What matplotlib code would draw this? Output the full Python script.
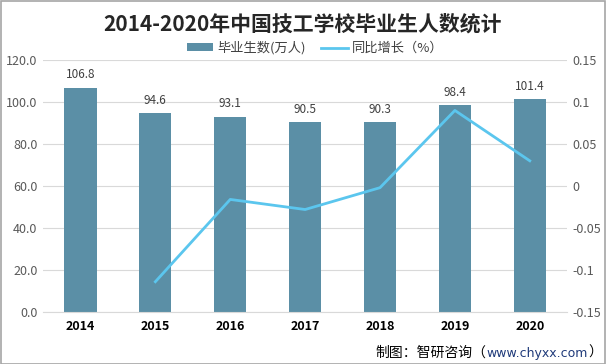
import matplotlib
matplotlib.use("Agg")
import matplotlib.pyplot as plt
import numpy as np

plt.rcParams['font.family'] = ['Noto Sans CJK SC', 'DejaVu Sans']

# 数据
years = ["2014", "2015", "2016", "2017", "2018", "2019", "2020"]
graduates = [106.8, 94.6, 93.1, 90.5, 90.3, 98.4, 101.4]
growth_years = ["2015", "2016", "2017", "2018", "2019", "2020"]
growth = [-0.114, -0.016, -0.028, -0.002, 0.090, 0.030]

bar_color = '#5B8FA6'
line_color = '#5BC6EE'
tick_color = '#595959'
grid_color = '#D9D9D9'

fig = plt.figure(figsize=(6.06, 3.64), dpi=100)
ax1 = fig.add_axes([0.071, 0.143, 0.865, 0.692])

idx = np.arange(len(years))
bars = ax1.bar(idx, graduates, 0.43, color=bar_color, label='毕业生数(万人)', zorder=2)
for x, v in zip(idx, graduates):
    ax1.text(x, v + 3, f"{v:.1f}", ha='center', va='bottom', fontsize=8.5, color='#404040')

ax1.set_ylim(0, 120)
ax1.set_yticks(np.arange(0, 121, 20))
ax1.set_yticklabels([f"{v:.1f}" for v in np.arange(0, 121, 20)])
ax1.set_xlim(-0.5, len(years) - 0.5)
ax1.set_xticks(idx)
ax1.set_xticklabels(years, fontweight='bold', fontsize=9, color='black')
ax1.grid(axis='y', color=grid_color, linewidth=0.8, zorder=0)
ax1.tick_params(axis='y', length=0, labelsize=9, labelcolor=tick_color, pad=4)
ax1.tick_params(axis='x', length=0, pad=6)
for s in ax1.spines.values():
    s.set_visible(False)
ax1.spines['bottom'].set_visible(True)
ax1.spines['bottom'].set_color(grid_color)

ax2 = ax1.twinx()
gx = [years.index(y) for y in growth_years]
line, = ax2.plot(gx, growth, color=line_color, linewidth=2, label='同比增长（%）', zorder=3)
ax2.set_ylim(-0.15, 0.15)
ax2.set_yticks([-0.15, -0.1, -0.05, 0, 0.05, 0.1, 0.15])
ax2.set_yticklabels(['-0.15', '-0.1', '-0.05', '0', '0.05', '0.1', '0.15'])
ax2.tick_params(axis='y', length=0, labelsize=9, labelcolor=tick_color, pad=4)
for s in ax2.spines.values():
    s.set_visible(False)

fig.text(0.5, 0.935, '2014-2020年中国技工学校毕业生人数统计', ha='center', va='center',
         fontsize=15, fontweight='bold', color='#262626')
fig.legend(handles=[bars, line], loc='center', bbox_to_anchor=(0.52, 0.868), ncol=2,
           frameon=False, fontsize=9.5, handlelength=2.0, handleheight=0.5,
           handletextpad=0.3, columnspacing=1.2, labelcolor='#404040')

# 页脚：网址部分用深蓝色
r = fig.canvas.get_renderer()
tp = fig.text(0.993, 0.03, '）', ha='right', va='center', fontsize=10, color='black')
bb = tp.get_window_extent(r)
tu = fig.text(bb.x0 / fig.bbox.width, 0.03, 'www.chyxx.com', ha='right', va='center',
              fontsize=9, color='#1F3A7A', family=['DejaVu Sans'])
bb = tu.get_window_extent(r)
fig.text(bb.x0 / fig.bbox.width, 0.03, '制图：智研咨询（', ha='right', va='center',
         fontsize=10, color='black')

fig.patches.append(plt.Rectangle((0.001, 0.001), 0.997, 0.996, transform=fig.transFigure,
                                 fill=False, edgecolor='#A6A6A6', linewidth=1.2))

fig.savefig('out.png', dpi=100)
